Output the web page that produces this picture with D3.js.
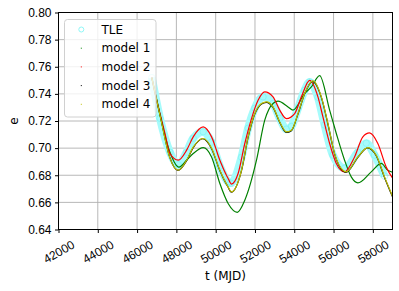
<!DOCTYPE html>
<html>
<head>
<meta charset="utf-8">
<script src="https://cdn.jsdelivr.net/npm/d3@7"></script>
<style>
  body { margin: 0; background: #fff; }
  svg { display: block; font-family: "DejaVu Sans", sans-serif; }
</style>
</head>
<body>
<div id="chart"></div>
<script>
// t (MJD) and eccentricity
var tle = [[46750,0.752],[47165,0.722],[47673,0.697],[48095,0.6878],[48521,0.697],[48857,0.7073],
  [49365,0.7121],[49791,0.7044],[50213,0.6867],[50634,0.675],[50770,0.6742],[51315,0.6933],
  [51650,0.7147],[51991,0.7294],[52412,0.7378],[52920,0.733],[53260,0.722],[53600,0.714],
  [53854,0.716],[54190,0.7294],[54530,0.7427],[54784,0.7488],[55205,0.7375],[55545,0.717],
  [55967,0.6948],[56561,0.6852],[57237,0.697],[57664,0.7036],[58086,0.6948],[58594,0.6793]];

var model1 = [[46750,0.752],[47165,0.7243],[47673,0.697],[48130,0.686],[48521,0.6911],[48857,0.696],
  [49365,0.7004],[49791,0.6935],[50213,0.6739],[50634,0.6592],[51101,0.6527],[51482,0.6616],
  [52077,0.6911],[52498,0.7206],[52920,0.7329],[53174,0.7346],[53682,0.7304],[53936,0.728],
  [54530,0.7403],[54870,0.7451],[55292,0.7534],[55800,0.728],[56140,0.7108],[56561,0.6911],
  [56901,0.6788],[57237,0.6744],[57918,0.6825],[58426,0.6887],[58761,0.6837],[59000,0.6822]];

var model2 = [[46750,0.752],[46911,0.7403],[47165,0.7255],[47419,0.7108],[47673,0.696],[48095,0.6911],
  [48521,0.6985],[48857,0.7083],[49365,0.7156],[49791,0.7083],[50213,0.6911],[50634,0.6776],
  [50800,0.6735],[51142,0.6813],[51482,0.7034],[51823,0.7218],[52158,0.7353],[52498,0.7415],
  [52920,0.7378],[53260,0.728],[53600,0.7218],[54022,0.7255],[54362,0.7378],[54784,0.75],
  [55205,0.7378],[55459,0.723],[55800,0.7034],[56140,0.6887],[56561,0.6825],[57069,0.6935],
  [57491,0.7083],[57831,0.7112],[58253,0.7034],[58679,0.6861],[59015,0.6776]];

var model3 = [[46750,0.752],[47165,0.7248],[47673,0.6928],[48080,0.6836],[48521,0.6908],[48857,0.7004],
  [49340,0.7069],[49791,0.6996],[50213,0.6834],[50634,0.6711],[50790,0.6675],[51315,0.6834],
  [51650,0.708],[51991,0.7252],[52331,0.7326],[52570,0.7338],[52920,0.73],[53260,0.719],
  [53590,0.7116],[53854,0.7129],[54190,0.7252],[54530,0.74],[54930,0.7492],[55378,0.7374],
  [55713,0.7177],[56054,0.6956],[56475,0.6832],[56630,0.6821],[57237,0.6932],[57730,0.7002],
  [58172,0.6944],[58594,0.6784],[59015,0.6636]];

var model4 = [[46750,0.752],[47165,0.7243],[47673,0.6926],[48095,0.6837],[48521,0.6911],[48857,0.7007],
  [49365,0.7071],[49791,0.7],[50213,0.6837],[50634,0.6714],[50807,0.6677],[51315,0.6837],
  [51650,0.7083],[51991,0.7255],[52331,0.7329],[52585,0.7341],[52920,0.7304],[53260,0.7193],
  [53600,0.712],[53854,0.7132],[54190,0.7255],[54530,0.7403],[54951,0.7496],[55378,0.7378],
  [55713,0.7181],[56054,0.696],[56475,0.6837],[56648,0.6825],[57237,0.6935],[57745,0.7004],
  [58172,0.6948],[58594,0.6788],[59015,0.664]];

var xTicks = [42000,44000,46000,48000,50000,52000,54000,56000,58000];
var yTicks = [0.64,0.66,0.68,0.70,0.72,0.74,0.76,0.78,0.80];
var legendNames = ["TLE","model 1","model 2","model 3","model 4"];

var width = 399, height = 291;
var margin = {top: 12.5, right: 6.5, bottom: 61.5, left: 58.5};
var innerW = width - margin.left - margin.right,
    innerH = height - margin.top - margin.bottom;

var svg = d3.select("#chart").append("svg")
    .attr("width", width)
    .attr("height", height);

var x = d3.scaleLinear().domain([42000, 59000]).range([0, innerW]);
var y = d3.scaleLinear().domain([0.64, 0.80]).range([innerH, 0]);

var g = svg.append("g").attr("transform", "translate(" + margin.left + "," + margin.top + ")");

// grid
g.selectAll(".vgrid").data(xTicks).enter().append("line")
    .attr("x1", d => x(d)).attr("x2", d => x(d))
    .attr("y1", 0).attr("y2", innerH)
    .attr("stroke", "#b0b0b0").attr("stroke-width", 0.9);
g.selectAll(".hgrid").data(yTicks).enter().append("line")
    .attr("x1", 0).attr("x2", innerW)
    .attr("y1", d => y(d)).attr("y2", d => y(d))
    .attr("stroke", "#b0b0b0").attr("stroke-width", 0.9);

svg.append("clipPath").attr("id", "plotclip")
  .append("rect").attr("width", innerW).attr("height", innerH);

var plot = g.append("g").attr("clip-path", "url(#plotclip)");

var line = d3.line()
    .curve(d3.curveMonotoneX)
    .x(d => x(d[0]))
    .y(d => y(d[1]));

// TLE band
plot.append("path").datum(tle)
    .attr("d", line)
    .attr("fill", "none")
    .attr("stroke", "#a6fbfb")
    .attr("stroke-width", 8)
    .attr("stroke-linejoin", "round");
plot.selectAll(".tlept").data(tle).enter().append("circle")
    .attr("cx", d => x(d[0])).attr("cy", d => y(d[1]))
    .attr("r", 3.2)
    .attr("fill", "none")
    .attr("stroke", "#6ff0f0")
    .attr("stroke-opacity", 0.5);

var series = [
  {data: model1, color: "#008000"},
  {data: model2, color: "#ff0000"},
  {data: model3, color: "#000000"},
  {data: model4, color: "#bfbf00"}
];
series.forEach(function(s) {
  plot.append("path").datum(s.data)
      .attr("d", line)
      .attr("fill", "none")
      .attr("stroke", s.color)
      .attr("stroke-width", 1.2);
});

// axes
var xAxis = g.append("g").attr("transform", "translate(0," + innerH + ")")
    .call(d3.axisBottom(x).tickValues(xTicks).tickSize(3.5).tickPadding(3.5).tickFormat(d3.format("d")));
xAxis.select(".domain").remove();
xAxis.selectAll("text")
    .style("font-size", "12px")
    .attr("fill", "#000")
    .attr("text-anchor", "middle")
    .attr("dy", null)
    .attr("y", null)
    .attr("dominant-baseline", "central")
    .attr("transform", "translate(0,22.5) rotate(-30)");

var yAxis = g.append("g")
    .call(d3.axisLeft(y).tickValues(yTicks).tickSize(3.5).tickPadding(3.5).tickFormat(d3.format(".2f")));
yAxis.select(".domain").remove();
yAxis.selectAll("text").style("font-size", "12px").attr("fill", "#000");

g.append("rect")
    .attr("width", innerW).attr("height", innerH)
    .attr("fill", "none").attr("stroke", "#000").attr("stroke-width", 1);

svg.append("text")
    .attr("x", margin.left + innerW / 2).attr("y", 280)
    .attr("text-anchor", "middle")
    .style("font-size", "12px")
    .text("t (MJD)");

svg.append("text")
    .attr("transform", "translate(17.5," + (margin.top + innerH / 2) + ") rotate(-90)")
    .attr("text-anchor", "middle")
    .style("font-size", "12px")
    .text("e");

// legend
var legend = svg.append("g").attr("transform", "translate(64.5,19.5)");
legend.append("rect")
    .attr("width", 91.5).attr("height", 97.5)
    .attr("rx", 3)
    .attr("fill", "#fff").attr("fill-opacity", 0.8)
    .attr("stroke", "#d0d0d0");
var legendColors = [null, "#008000", "#ff0000", "#000000", "#bfbf00"];
legendNames.forEach(function(name, i) {
  var ly = 10 + i * 18.7;
  if (i === 0) {
    legend.append("circle").attr("cx", 16.8).attr("cy", ly).attr("r", 2.5)
        .attr("fill", "none").attr("stroke", "#8ff8f8").attr("stroke-width", 1);
  } else {
    legend.append("rect").attr("x", 16.3).attr("y", ly - 0.5).attr("width", 1).attr("height", 1)
        .attr("fill", legendColors[i]);
  }
  legend.append("text")
      .attr("x", 37).attr("y", ly)
      .attr("dominant-baseline", "central")
      .style("font-size", "12px")
      .text(name);
});
</script>
</body>
</html>
